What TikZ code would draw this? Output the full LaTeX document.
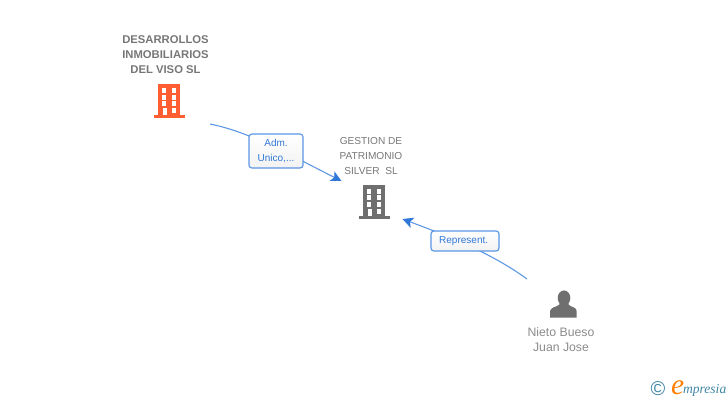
\documentclass[tikz,border=0pt]{standalone}
\usepackage{fontspec}
\setmainfont{Liberation Sans}
\newfontfamily\logofont{Liberation Serif}
\usetikzlibrary{arrows.meta}
\definecolor{txtgray}{HTML}{777777}
\definecolor{icongray}{HTML}{6F6F6F}
\definecolor{iconorange}{HTML}{FF5E33}
\definecolor{linkblue}{HTML}{5B96E4}
\definecolor{labelblue}{HTML}{2F78D8}
\definecolor{logoteal}{HTML}{3F86A3}
\tikzset{
  x=0.75pt,y=-0.75pt,
  every node/.style={inner sep=0pt,outer sep=0pt},
  nametext/.style={align=center,text=txtgray,font=\fontsize{7.6pt}{11.25pt}\selectfont},
  boldname/.style={nametext,font=\fontsize{8.45pt}{11.25pt}\selectfont\bfseries},
  linkbox/.style={draw=linkblue,line width=0.9pt,rounded corners=2.2pt,top color=white,bottom color=white!95!black,text=labelblue,align=center,font=\fontsize{7.5pt}{10.9pt}\selectfont},
  link/.style={draw=linkblue,line width=0.8pt},
  linkarrow/.style={link,-{Stealth[inset=2pt,length=8pt,width=8pt,color=labelblue]}},
}
\newcommand{\buildingicon}[3]{%
  \begin{scope}[shift={(#1,#2)}]
    \fill[#3] (158.3,84.3) rectangle (180.3,115.2);
    \fill[#3] (153.5,115.2) rectangle (185,118);
    \fill[white] (161.8,88) rectangle (166.4,92.8);
    \fill[white] (171.5,88) rectangle (176.4,92.8);
    \fill[white] (161.8,94.7) rectangle (166.4,99.5);
    \fill[white] (171.5,94.7) rectangle (176.4,99.5);
    \fill[white] (161.8,101.4) rectangle (166.4,106.2);
    \fill[white] (171.5,101.4) rectangle (176.4,106.2);
    \fill[white] (162.8,108.1) rectangle (167,115.2);
    \fill[white] (171.5,108.1) rectangle (176.4,112.8);
  \end{scope}}
\begin{document}
\begin{tikzpicture}
\useasboundingbox (0,0) rectangle (728,400);
\buildingicon{0}{0}{iconorange}
\buildingicon{205}{100.7}{icongray}
% person
\fill[icongray] (564,298) ellipse[x radius=6.3,y radius=7.6];
\fill[icongray] (550,317.7) -- (550,312) .. controls (550,308.5) and (553,307.5) .. (556.5,306.3) .. controls (559,305.4) and (560,304.5) .. (560,302) -- (568,302) .. controls (568,304.5) and (569,305.4) .. (571,306.3) .. controls (574.5,307.5) and (576.7,308.5) .. (576.7,312) -- (576.7,317.7) -- cycle;
\node[boldname] (desarrollos) at (165.5,54.5) {DESARROLLOS\\INMOBILIARIOS\\DEL VISO SL};
\node[nametext] (gestion) at (371,156.5) {GESTION DE\\PATRIMONIO\\SILVER\ \ SL};
\node[nametext,font=\fontsize{9.2pt}{11.25pt}\selectfont,text=txtgray!85!white] (nieto) at (561,339.5) {Nieto Bueso\\Juan Jose};
\coordinate (a1) at (210,124);
\coordinate (a2) at (341.5,181);
\coordinate (b1) at (527,279);
\coordinate (b2) at (402.5,219);
\draw[linkarrow] (a1) .. controls (250,132) and (290,155) .. (a2);
\draw[linkarrow] (b1) .. controls (490,252) and (445,235) .. (b2);
\node[linkbox,minimum width=40.5pt,minimum height=25.5pt] (adm) at (276,151) {\raisebox{-0.7pt}{Adm.}\\\raisebox{-0.7pt}{Unico,...}};
\node[linkbox,minimum width=51pt,minimum height=15pt] (rep) at (465,241) {\hspace{-2pt}\raisebox{-0.6pt}{Represent.}};
% logo
\node[text=logoteal,font=\fontsize{15pt}{15pt}\selectfont] (copy) at (658,388.5) {©};
\node[anchor=west,text=orange,font=\logofont\fontsize{22pt}{22pt}\selectfont\itshape] (elogo) at (671,388) {e};
\node[anchor=west,text=logoteal,font=\logofont\fontsize{10.2pt}{10.2pt}\selectfont\itshape] (mpresia) at (683,390) {mpresia};
\end{tikzpicture}
\end{document}
